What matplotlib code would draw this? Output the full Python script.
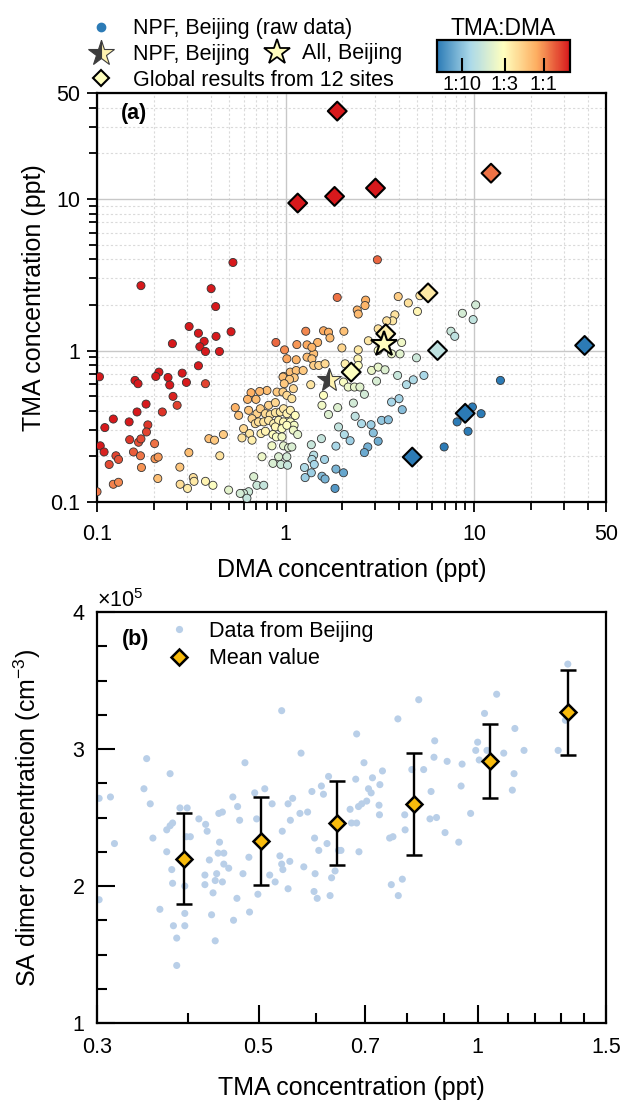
import numpy as np
import matplotlib
matplotlib.use('Agg')
import matplotlib.pyplot as plt
from matplotlib.colors import LinearSegmentedColormap, LogNorm
from matplotlib.lines import Line2D
from matplotlib.ticker import FixedLocator, NullFormatter

plt.rcParams['font.family'] = ['Liberation Sans', 'DejaVu Sans']
plt.rcParams['mathtext.default'] = 'regular'

# ---------------- panel (a): raw data, Beijing (ppt) ----------------
dma_raw = np.array([
    0.526, 0.171, 0.403, 0.426, 0.308, 0.345, 0.370, 0.428, 0.251, 0.351, 0.376, 0.446, 0.345,
    0.103, 0.159, 0.165, 0.213, 0.205, 0.238, 0.243, 0.283, 0.298, 0.376, 0.253, 0.266, 0.182,
    0.163, 0.222, 0.122, 0.110, 0.148, 0.186, 0.183, 0.149, 0.166, 0.171, 0.104, 0.109, 0.126,
    0.130, 0.116, 0.156, 0.170, 0.202, 0.203, 0.211, 0.172, 0.210, 0.307, 0.122, 0.130, 0.100,
    0.275, 0.276, 0.302, 0.324, 0.327, 0.376, 0.412, 0.448, 0.392, 0.420, 0.468,
    0.514, 0.889, 0.988, 1.148, 1.016, 1.139, 0.976, 1.059, 1.139, 1.112, 1.41, 1.24, 1.48,
    0.969, 1.05, 0.984, 0.797, 0.729, 0.656, 0.629, 0.697, 0.541, 0.564, 0.637, 0.705, 0.735,
    0.782, 0.813, 0.829, 0.883, 0.883, 0.901, 0.938, 0.969, 0.976, 1.016, 1.016, 1.06, 1.08,
    1.10, 1.125, 0.664, 0.691, 0.719, 0.766, 0.813, 0.865, 0.919, 0.976, 1.06, 1.11, 0.883,
    0.957, 1.016, 0.599, 0.645, 0.664, 0.587, 0.741, 0.782, 0.857, 0.894, 0.957, 1.10, 1.16,
    0.847, 0.976, 1.038, 1.08, 0.750, 0.919, 1.016, 0.857, 0.945, 1.025, 0.678, 0.705, 0.766,
    0.637, 0.599, 0.624, 0.575, 0.499,
    3.07, 1.88, 2.66, 2.64, 2.40, 2.43, 3.96, 4.48, 5.01, 5.16, 3.80, 3.70, 3.44, 8.67, 10.2,
    9.89, 7.54, 7.90, 1.28, 1.59, 1.69, 1.72, 2.04, 1.30, 1.38, 1.99, 2.43, 2.75, 4.13, 4.05,
    3.10, 3.65, 1.30, 1.38, 1.41, 1.50, 1.62, 2.07, 2.42, 2.43, 2.86, 3.10, 3.37, 3.93, 4.38,
    4.76, 5.42, 4.95, 2.03, 2.15, 2.32, 2.48, 2.62, 3.04, 2.29, 3.65, 4.00, 4.16, 1.69, 1.89,
    1.56, 2.34, 2.53, 2.84, 3.23, 3.51, 1.91, 2.05, 2.20, 2.92, 3.10, 2.73, 2.62, 1.37, 1.55,
    1.85, 1.41, 1.38, 1.61, 1.42, 1.26, 1.37, 1.27, 1.56, 1.62, 1.85, 2.03, 1.83, 13.8, 9.80,
    10.9, 8.13, 9.29, 6.94, 3.10, 1.36, 1.59])
tma_raw = np.array([
    3.81, 2.68, 2.56, 1.95, 1.44, 1.30, 1.15, 1.24, 1.11, 1.06, 0.985, 0.985, 0.793,
    0.671, 0.635, 0.604, 0.720, 0.674, 0.664, 0.592, 0.709, 0.616, 0.604, 0.498, 0.435, 0.443,
    0.393, 0.393, 0.353, 0.310, 0.338, 0.323, 0.290, 0.258, 0.248, 0.261, 0.235, 0.214, 0.202,
    0.191, 0.177, 0.214, 0.202, 0.243, 0.193, 0.198, 0.169, 0.143, 0.212, 0.131, 0.135, 0.117,
    0.170, 0.131, 0.123, 0.145, 0.137, 0.137, 0.129, 0.202, 0.262, 0.256, 0.279,
    1.33, 1.13, 1.01, 1.094, 0.882, 0.869, 0.675, 0.720, 0.738, 0.661, 0.951, 0.738, 1.13,
    0.668, 0.645, 0.604, 0.545, 0.537, 0.527, 0.476, 0.476, 0.420, 0.373, 0.403, 0.383, 0.413,
    0.383, 0.435, 0.377, 0.453, 0.389, 0.532, 0.393, 0.532, 0.413, 0.506, 0.383, 0.403, 0.481,
    0.560, 0.373, 0.355, 0.329, 0.338, 0.338, 0.346, 0.329, 0.346, 0.338, 0.338, 0.321, 0.313,
    0.305, 0.321, 0.305, 0.283, 0.256, 0.265, 0.283, 0.293, 0.279, 0.269, 0.269, 0.298, 0.279,
    0.235, 0.235, 0.228, 0.231, 0.199, 0.199, 0.199, 0.180, 0.177, 0.175, 0.147, 0.129, 0.129,
    0.117, 0.114, 0.106, 0.114, 0.120,
    3.97, 2.24, 2.15, 1.98, 1.85, 1.74, 2.27, 2.06, 1.81, 2.30, 1.72, 1.57, 1.57, 1.76, 2.00,
    1.60, 1.34, 1.24, 1.34, 1.35, 1.32, 1.21, 1.34, 1.09, 1.05, 1.04, 1.01, 1.16, 1.13, 0.95,
    1.00, 0.951, 0.904, 0.881, 0.797, 0.797, 0.817, 0.817, 0.881, 0.797, 0.739, 0.777, 0.746,
    0.685, 0.595, 0.641, 0.685, 0.895, 0.619, 0.574, 0.574, 0.574, 0.514, 0.628, 0.450, 0.457,
    0.481, 0.407, 0.378, 0.420, 0.435, 0.368, 0.329, 0.324, 0.346, 0.349, 0.313, 0.279, 0.254,
    0.286, 0.252, 0.231, 0.212, 0.239, 0.262, 0.234, 0.204, 0.191, 0.191, 0.177, 0.169, 0.156,
    0.145, 0.148, 0.142, 0.165, 0.156, 0.123, 0.635, 0.424, 0.383, 0.338, 0.293, 0.231, 1.39,
    0.595, 0.506])

# global results from 12 sites
dma_sites = np.array([1.16, 1.82, 1.88, 3.0, 12.3, 5.7, 2.23, 6.4, 38.6, 8.97, 4.7, 3.4])
tma_sites = np.array([9.4, 10.4, 38.0, 11.8, 14.8, 2.4, 0.72, 1.0, 1.08, 0.385, 0.198, 1.29])

# Beijing means
dma_npf, tma_npf = 1.69, 0.635
dma_all, tma_all = 3.34, 1.11

# ---------------- panel (b) ----------------
tma_b = np.array([
    0.302, 0.313, 0.302, 0.317, 0.351, 0.348, 0.355, 0.358, 0.366, 0.378, 0.374, 0.374, 0.378,
    0.381, 0.380, 0.381, 0.382, 0.386, 0.386, 0.390, 0.396, 0.396, 0.396, 0.399, 0.398, 0.403,
    0.414, 0.423, 0.425, 0.422, 0.422, 0.428, 0.431, 0.433, 0.436, 0.436, 0.438, 0.440, 0.442,
    0.441, 0.446, 0.448, 0.446, 0.448, 0.455, 0.461, 0.468, 0.471, 0.467, 0.462, 0.476, 0.479,
    0.485, 0.486, 0.494,
    0.510, 0.522, 0.497, 0.499, 0.539, 0.535, 0.538, 0.540, 0.518, 0.527, 0.549, 0.552, 0.553,
    0.549, 0.557, 0.570, 0.584, 0.577, 0.572, 0.538, 0.592, 0.610, 0.614, 0.624, 0.597, 0.605,
    0.598, 0.596, 0.602, 0.621, 0.627, 0.630, 0.637, 0.644, 0.649, 0.668, 0.671, 0.682, 0.682,
    0.680, 0.698, 0.686, 0.693, 0.704, 0.708, 0.714, 0.717, 0.740, 0.734, 0.732, 0.733, 0.687,
    0.757, 0.765, 0.795, 0.794, 0.761, 0.788, 0.778, 0.777, 0.830, 0.812, 0.843, 0.863, 0.871,
    0.873, 0.860, 0.878,
    0.908, 0.952, 0.949, 0.902, 0.942, 0.978, 1.000, 0.994, 1.022, 1.062, 1.030, 1.005, 1.086,
    1.125, 1.158, 1.122, 1.116, 1.29, 1.33, 1.32])
sa_b = np.array([  # x1e5 cm-3
    2.64, 2.65, 1.90, 2.31, 2.93, 2.71, 2.60, 2.35, 1.83, 2.82, 2.25, 2.41, 2.44,
    2.46, 2.12, 2.02, 1.71, 1.62, 1.42, 2.57, 1.80, 1.71, 2.00, 2.57, 2.36, 2.36,
    2.49, 2.45, 2.40, 2.08, 2.01, 2.19, 1.79, 1.95, 1.60, 2.04, 2.09, 2.24, 2.32,
    2.53, 2.54, 2.24, 2.03, 2.16, 2.13, 2.65, 2.58, 2.48, 1.91, 1.75, 2.09, 2.90,
    2.21, 1.81, 2.68,
    2.71, 2.60, 2.49, 1.94, 2.40, 2.22, 2.16, 2.12, 2.08, 2.03, 1.98, 2.18, 2.48,
    2.60, 2.64, 2.53, 2.54, 2.14, 2.97, 3.28, 2.69, 2.73, 2.67, 2.80, 2.35, 2.26,
    2.09, 1.96, 1.91, 2.31, 1.93, 2.06, 2.11, 2.26, 2.26, 2.56, 2.46, 2.46, 3.11,
    2.78, 2.90, 2.58, 2.60, 2.62, 2.71, 2.68, 2.79, 2.84, 2.74, 2.59, 2.52, 2.25,
    2.35, 2.36, 2.41, 2.52, 2.01, 2.05, 1.93, 3.22, 3.36, 2.85, 2.85, 2.69, 2.94,
    3.06, 2.49, 2.50,
    2.91, 2.89, 2.73, 2.39, 2.32, 2.53, 3.05, 2.99, 3.26, 3.40, 2.99, 2.92, 2.97,
    3.15, 2.99, 2.82, 2.70, 2.99, 3.62, 3.21])

tma_bin = np.array([0.395, 0.504, 0.641, 0.817, 1.04, 1.33])
sa_mean = np.array([2.20, 2.33, 2.46, 2.60, 2.91, 3.27])
sa_sd = np.array([0.33, 0.32, 0.31, 0.37, 0.27, 0.31])

# ---------------- figure ----------------
fs_tick = 15.5
fs_label = 18

cmap = LinearSegmentedColormap.from_list(
    'tma_dma', ['#2c7bb6', '#abd9e9', '#ffffbf', '#fdae61', '#d7191c'])
norm = LogNorm(vmin=0.05, vmax=2.1)

fig = plt.figure(figsize=(6.22, 11.0), dpi=100)
ax1 = fig.add_axes([0.156, 0.5436, 0.818, 0.3718])
ax2 = fig.add_axes([0.156, 0.0700, 0.818, 0.3736])

# panel (a)
ax1.scatter(dma_raw, tma_raw, c=tma_raw / dma_raw, cmap=cmap, norm=norm, s=34,
            edgecolors='#333333', linewidths=0.6, zorder=3)
ax1.scatter(dma_sites, tma_sites, c=tma_sites / dma_sites, cmap=cmap, norm=norm,
            marker='D', s=92, edgecolors='k', linewidths=1.5, zorder=4)
npf_col = cmap(norm(tma_npf / dma_npf))
all_col = cmap(norm(tma_all / dma_all))
ax1.plot(dma_npf, tma_npf, ls='none', marker='*', ms=18, fillstyle='left',
         mfc='#3d3d3d', mfcalt=npf_col, mec='#3d3d3d', mew=0.8, zorder=5)
ax1.plot(dma_all, tma_all, ls='none', marker='*', ms=19, mfc=all_col,
         mec='k', mew=1.5, zorder=5)

ax1.set_xscale('log')
ax1.set_yscale('log')
ax1.set_xlim(0.1, 50)
ax1.set_ylim(0.1, 50)
ax1.set_xticks([0.1, 1, 10, 50])
ax1.set_xticklabels(['0.1', '1', '10', '50'])
ax1.set_yticks([0.1, 1, 10, 50])
ax1.set_yticklabels(['0.1', '1', '10', '50'])
ax1.xaxis.set_minor_formatter(NullFormatter())
ax1.yaxis.set_minor_formatter(NullFormatter())
ax1.grid(which='major', color='#c8c8c8', lw=1.0, ls='-', zorder=0)
ax1.grid(which='minor', color='#dadada', lw=0.8, ls=(0, (2, 2)), zorder=0)
ax1.set_axisbelow(True)
ax1.tick_params(which='both', direction='out', width=1.3, labelsize=fs_tick)
ax1.tick_params(which='major', length=7)
ax1.tick_params(which='minor', length=6)
ax1.tick_params(axis='x', pad=9)
ax1.tick_params(axis='y', pad=5)
for s in ax1.spines.values():
    s.set_linewidth(1.6)
ax1.set_xlabel('DMA concentration (ppt)', fontsize=fs_label)
ax1.set_ylabel('TMA concentration (ppt)', fontsize=fs_label)
ax1.xaxis.set_label_coords(0.5, -0.137)
ax1.yaxis.set_label_coords(-0.1, 0.5)
ax1.text(0.047, 0.951, '(a)', transform=ax1.transAxes, fontsize=fs_tick,
         fontweight='bold', va='center', ha='left')

# colorbar
cax = fig.add_axes([0.7026, 0.9345, 0.2138, 0.029])
sm = plt.cm.ScalarMappable(norm=norm, cmap=cmap)
cb = fig.colorbar(sm, cax=cax, orientation='horizontal')
cb.set_ticks([0.1, 1 / 3, 1])
cb.set_ticklabels(['1:10', '1:3', '1:1'])
cb.ax.minorticks_off()
cb.ax.tick_params(direction='in', length=10, width=1.5, labelsize=14.5, pad=2)
cb.outline.set_linewidth(1.6)
cax.set_title('TMA:DMA', fontsize=16.5, pad=2)

# legends for panel (a)
h_raw = Line2D([], [], ls='none', marker='o', ms=6, mfc='#2c7bb6', mec='#2c7bb6')
h_npf = Line2D([], [], ls='none', marker='*', ms=19, fillstyle='left',
               mfc='#3d3d3d', mfcalt=npf_col, mec='#3d3d3d', mew=0.8)
h_site = Line2D([], [], ls='none', marker='D', ms=8.5, mfc='#ffffbf', mec='k', mew=1.5)
h_all = Line2D([], [], ls='none', marker='*', ms=19, mfc=all_col, mec='k', mew=1.3)
fig.legend([h_raw, h_npf, h_site],
           ['NPF, Beijing (raw data)', 'NPF, Beijing', 'Global results from 12 sites'],
           loc='upper left', bbox_to_anchor=(0.145, 0.9832), bbox_transform=fig.transFigure,
           frameon=False, fontsize=fs_tick, handlelength=1.0, handletextpad=1.0,
           labelspacing=0.22, borderpad=0, borderaxespad=0)
fig.legend([h_all], ['All, Beijing'],
           loc='upper left', bbox_to_anchor=(0.428, 0.9605), bbox_transform=fig.transFigure,
           frameon=False, fontsize=fs_tick, handlelength=1.0, handletextpad=0.65,
           borderpad=0, borderaxespad=0)

# panel (b)
ax2.scatter(tma_b, sa_b, s=26, color='#b9cfe8', edgecolors='none', zorder=2)
ax2.errorbar(tma_bin, sa_mean, yerr=sa_sd, fmt='D', ms=8.5, mfc='#f8bb0d', mec='k',
             mew=1.8, ecolor='k', elinewidth=1.7, capsize=5.5, capthick=1.7, zorder=3)
ax2.set_xscale('log')
ax2.set_xlim(0.3, 1.5)
ax2.set_ylim(1, 4)
ax2.xaxis.set_major_locator(FixedLocator([0.3, 0.5, 0.7, 1, 1.5]))
ax2.set_xticklabels(['0.3', '0.5', '0.7', '1', '1.5'])
ax2.xaxis.set_minor_locator(FixedLocator([0.4, 0.6, 0.8, 0.9, 1.1, 1.2, 1.3, 1.4]))
ax2.xaxis.set_minor_formatter(NullFormatter())
ax2.set_yticks([1, 2, 3, 4])
ax2.set_yticklabels(['1', '2', '3', '4'])
ax2.yaxis.set_minor_locator(FixedLocator(np.arange(1.25, 4, 0.25)))
ax2.tick_params(which='both', direction='in', width=1.5, labelsize=fs_tick)
ax2.tick_params(which='major', length=13)
ax2.tick_params(which='minor', length=7)
ax2.tick_params(axis='x', pad=10)
ax2.tick_params(axis='y', pad=9)
for s in ax2.spines.values():
    s.set_linewidth(1.6)
ax2.set_xlabel('TMA concentration (ppt)', fontsize=fs_label)
ax2.set_ylabel('SA dimer concentration (cm$^{-3}$)', fontsize=fs_label)
ax2.xaxis.set_label_coords(0.5, -0.13)
ax2.yaxis.set_label_coords(-0.107, 0.5)
ax2.text(0.0, 1.0, r'$\times$10$^5$', transform=ax2.transAxes, fontsize=fs_tick,
         ha='left', va='bottom')
ax2.text(0.049, 0.932, '(b)', transform=ax2.transAxes, fontsize=fs_tick,
         fontweight='bold', va='center', ha='left')
h_dat = Line2D([], [], ls='none', marker='o', ms=5.2, mfc='#b9cfe8', mec='none')
h_mean = Line2D([], [], ls='none', marker='D', ms=8.5, mfc='#f8bb0d', mec='k', mew=1.8)
ax2.legend([h_dat, h_mean], ['Data from Beijing', 'Mean value'],
           loc='upper left', bbox_to_anchor=(0.27, 0.4355), bbox_transform=fig.transFigure,
           frameon=False, fontsize=fs_tick, handlelength=1.0, handletextpad=0.93,
           labelspacing=0.3, borderpad=0, borderaxespad=0)

fig.savefig('out.png', dpi=100)
